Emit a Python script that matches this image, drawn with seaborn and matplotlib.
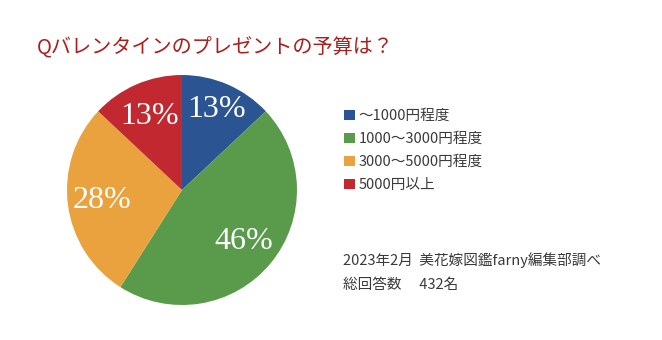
import matplotlib
matplotlib.use("Agg")
import matplotlib.pyplot as plt
import seaborn as sns

categories = ["～1000円程度", "1000～3000円程度", "3000～5000円程度", "5000円以上"]
shares = [13, 46, 28, 13]
colors = ["#2B5592", "#5A9A4B", "#E9A23E", "#C1282F"]
title = "Qバレンタインのプレゼントの予算は？"
note_lines = ["2023年2月  美花嫁図鑑farny編集部調べ", "総回答数　 432名"]

sns.set_theme(style="white")
plt.rcParams["font.family"] = ["Noto Sans CJK JP", "DejaVu Sans"]

fig = plt.figure(figsize=(6.62, 3.4), dpi=100)
fig.patch.set_facecolor("white")
ax = fig.add_axes([0.1012, 0.1029, 0.3474, 0.6765])

wedges, texts, autotexts = ax.pie(
    shares, colors=colors, startangle=90, counterclock=False,
    autopct="%d%%", pctdistance=0.7, radius=1,
    wedgeprops=dict(linewidth=0),
    textprops=dict(color="white", fontsize=23, family=["Liberation Serif"]),
)
# blue label sits a bit further out
x, y = autotexts[0].get_position()
autotexts[0].set_position((x * 1.09, y * 1.09))
ax.set_xlim(-1, 1)
ax.set_ylim(-1, 1)
ax.set_aspect("equal")
ax.axis("off")

fig.text(37 / 662, 1 - 47 / 340, title, color="#A8201E", fontsize=14.5,
         va="center", ha="left")

fig.legend(wedges, categories, loc="upper left",
           bbox_to_anchor=(344 / 662, 1 - 109 / 340), frameon=False,
           fontsize=10.5, handlelength=0.75, handleheight=0.75,
           handletextpad=0.25, labelspacing=0.62, borderpad=0,
           borderaxespad=0, labelcolor="#3A3A3A")

for i, line in enumerate(note_lines):
    fig.text(343 / 662, 1 - (260 + 25 * i) / 340, line, color="#3A3A3A",
             fontsize=10.5, va="center", ha="left")

fig.savefig("out.png", dpi=100, facecolor="white")
